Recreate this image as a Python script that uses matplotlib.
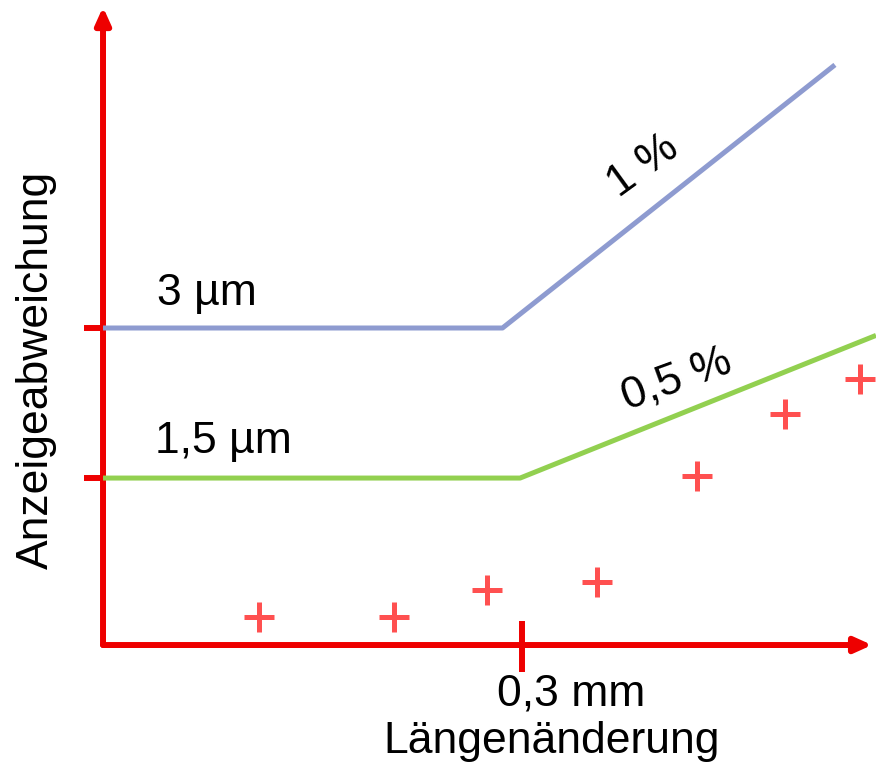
#!/usr/bin/env python3

# Schematic: Anzeigeabweichung vs. Längenänderung.
import matplotlib
matplotlib.use("Agg")
import matplotlib.pyplot as plt

# Data (x in mm, y in µm).
BlueX = [0.0, 0.286, 0.524]
BlueY = [3.0, 3.0, 5.49]
GreenX = [0.0, 0.2986, 0.5534]
GreenY = [1.58, 1.58, 2.93]
PointsX = [0.112, 0.208, 0.275, 0.354, 0.425, 0.488, 0.542]
PointsY = [0.265, 0.265, 0.52, 0.60, 1.60, 2.19, 2.52]
YTicks = [1.58, 3.0]
XTicks = [0.3]

Red = "#ee0000"
Blue = "#8e9bd0"
Green = "#92d050"
Marker = "#ff5050"
Font = "Liberation Sans"
Size = 32

plt.rcParams["font.family"] = [Font, "DejaVu Sans"]

Fig = plt.figure(figsize=(8.76, 7.64), dpi=100)
Ax = Fig.add_axes([0, 0, 1, 1])
Ax.set_xlim(-0.07375, 0.5534)
Ax.set_ylim(-1.126, 6.104)
Ax.axis("off")

# Axes with arrows.
Arrow = dict(arrowstyle="-|>,head_length=1.0,head_width=0.45", lw=4.3, color=Red,
             mutation_scale=10, shrinkA=0, shrinkB=0)
Ax.annotate("", xy=(0, 6.038), xytext=(0, 0), arrowprops=Arrow)
Ax.annotate("", xy=(0.5506, 0), xytext=(0, 0), arrowprops=Arrow)

# Tick marks.
for Y in YTicks:
    Ax.plot([-0.0136, 0], [Y, Y], color=Red, lw=4.3, solid_capstyle="butt")
for X in XTicks:
    Ax.plot([X, X], [-0.256, 0.227], color=Red, lw=4.3, solid_capstyle="butt")

# Lines and points.
Ax.plot(BlueX, BlueY, color=Blue, lw=3.6, solid_capstyle="butt", zorder=3)
Ax.plot(GreenX, GreenY, color=Green, lw=3.6, solid_capstyle="butt", zorder=3)
Ax.plot(PointsX, PointsY, ls="none", marker="+", ms=22, mew=3.6, color=Marker, zorder=3)

# Texts.
Ax.text(0.039, 3.22, "3 µm", fontsize=Size, ha="left", va="baseline")
Ax.text(0.037, 1.82, "1,5 µm", fontsize=Size, ha="left", va="baseline")
Ax.text(0.3866, 4.533, "1 %", fontsize=Size, ha="center", va="center",
        rotation=36, rotation_mode="anchor")
Ax.text(0.411, 2.508, "0,5 %", fontsize=Size, ha="center", va="center",
        rotation=20, rotation_mode="anchor")
Ax.text(0.335, -0.568, "0,3 mm", fontsize=Size, ha="center", va="baseline")
Ax.text(0.3215, -1.022, "Längenänderung", fontsize=Size, ha="center", va="baseline")
Ax.text(-0.0394, 2.60, "Anzeigeabweichung", fontsize=Size, ha="center", va="baseline",
        rotation=90, rotation_mode="anchor")

Fig.savefig("out.png", dpi=100)
